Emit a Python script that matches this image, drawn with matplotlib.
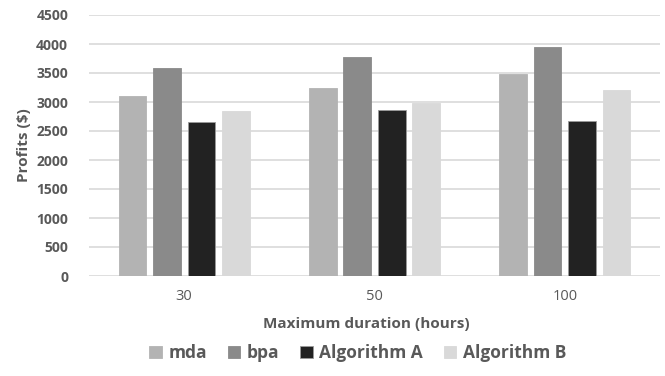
import numpy as np
import matplotlib.pyplot as plt

plt.rcParams["font.family"] = ["Open Sans", "DejaVu Sans"]

durations = ["30", "50", "100"]
series_names = ["mda", "bpa", "Algorithm A", "Algorithm B"]
mda = [3110, 3250, 3480]
bpa = [3580, 3770, 3940]
alg_a = [2650, 2860, 2670]
alg_b = [2840, 2990, 3210]
colors = ["#b3b3b3", "#8a8a8a", "#222222", "#d9d9d9"]

text_gray = "#595959"
grid_gray = "#d9d9d9"

fig = plt.figure(figsize=(6.65, 3.76), dpi=100)
ax = fig.add_axes([89 / 665, 1 - 276 / 376, (660 - 89) / 665, (276 - 15) / 376])

x = np.arange(len(durations))
width = 0.145
step = 0.181
for i, (vals, name, c) in enumerate(zip([mda, bpa, alg_a, alg_b], series_names, colors)):
    ax.bar(x + (i - 1.5) * step, vals, width, color=c, label=name,
           edgecolor="#9a9a9a" if i == 2 else c, linewidth=0.6, zorder=3)

ax.set_xlim(-0.5, 2.5)
ax.set_ylim(0, 4500)
ax.set_yticks(np.arange(0, 4501, 500))
ax.set_xticks(x)
ax.set_xticklabels(durations, fontsize=10.5, color=text_gray)
for lbl in ax.get_yticklabels():
    lbl.set_fontweight("bold")
    lbl.set_fontsize(10)
    lbl.set_color(text_gray)
ax.tick_params(length=0)
ax.tick_params(axis="y", pad=15)
ax.tick_params(axis="x", pad=9)

ax.grid(axis="y", color=grid_gray, linewidth=1.2, zorder=0)
for s in ax.spines.values():
    s.set_visible(False)

ax.set_ylabel("Profits ($)", fontsize=11, fontweight="bold", color=text_gray)
ax.yaxis.set_label_coords(-(89 - 31) / 571, 0.5)
ax.set_xlabel("Maximum duration (hours)", fontsize=11, fontweight="bold", color=text_gray)
ax.xaxis.set_label_coords((366 - 89) / 571, -(317 - 276) / 261)

leg = fig.legend(loc="center", bbox_to_anchor=(358 / 665, 1 - 353 / 376), ncol=4,
                 frameon=False, handlelength=0.7, handleheight=0.7, handletextpad=0.4,
                 columnspacing=1.2, prop={"size": 12.5, "weight": "bold"})
for t in leg.get_texts():
    t.set_color(text_gray)

fig.savefig("out.png", dpi=100, facecolor="white")
